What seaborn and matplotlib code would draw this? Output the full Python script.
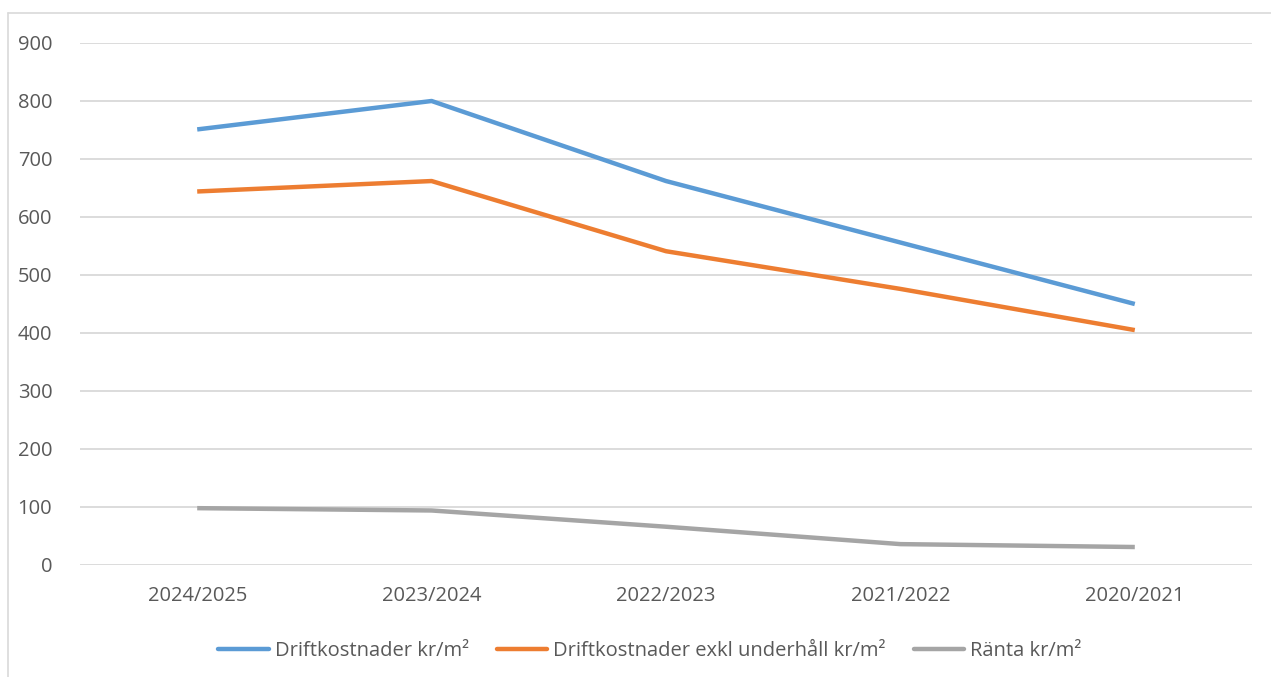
import matplotlib
matplotlib.use("Agg")
import matplotlib.pyplot as plt
import seaborn as sns
import pandas as pd
from matplotlib.lines import Line2D

categories = ["2024/2025", "2023/2024", "2022/2023", "2021/2022", "2020/2021"]
drift = [751, 800, 662, 556, 450]
drift_exkl = [644, 662, 541, 476, 405]
ranta = [98, 94, 66, 36, 31]
series_names = ["Driftkostnader kr/m²", "Driftkostnader exkl underhåll kr/m²", "Ränta kr/m²"]
colors = ["#5B9BD5", "#ED7D31", "#A5A5A5"]
yticks = [0, 100, 200, 300, 400, 500, 600, 700, 800, 900]

rows = []
for name, vals in zip(series_names, [drift, drift_exkl, ranta]):
    for i, (c, v) in enumerate(zip(categories, vals)):
        rows.append({"pos": i, "cat": c, "value": v, "series": name})
df = pd.DataFrame(rows)

sns.set_theme(style="white")
plt.rcParams["font.family"] = ["Open Sans", "DejaVu Sans"]

fig = plt.figure(figsize=(12.71, 6.77), dpi=100)
ax = fig.add_axes([80 / 1271, 1 - 565 / 677, (1252 - 80) / 1271, (565 - 43) / 677])

sns.lineplot(data=df, x="pos", y="value", hue="series", palette=colors,
             hue_order=series_names, linewidth=3.2, ax=ax, legend=False,
             solid_capstyle="butt")

ax.set_xlim(-0.5, 4.5)
ax.set_ylim(0, 900)
ax.set_yticks(yticks)
ax.set_yticklabels([str(t) for t in yticks])
ax.set_xticks(range(len(categories)))
ax.set_xticklabels(categories)
ax.yaxis.grid(True, color="#D9D9D9", linewidth=1.3)
ax.xaxis.grid(False)
ax.set_axisbelow(True)
for s in ax.spines.values():
    s.set_visible(False)
ax.tick_params(axis="both", length=0, labelsize=14.5, labelcolor="#595959")
ax.tick_params(axis="y", pad=20)
ax.tick_params(axis="x", pad=15)
ax.set_xlabel("")
ax.set_ylabel("")

handles = [Line2D([0], [0], color=c, linewidth=3.2) for c in colors]
fig.legend(handles, series_names, loc="center", bbox_to_anchor=(650 / 1271, 1 - 651 / 677),
           ncol=3, frameon=False, fontsize=14.5, labelcolor="#595959",
           handlelength=2.5, handletextpad=0.3, columnspacing=1.4)

# outer chart border (top and left visible)
fig.add_artist(Line2D([8 / 1271, 1.0], [1 - 13 / 677, 1 - 13 / 677], color="#D9D9D9", linewidth=1.2))
fig.add_artist(Line2D([8 / 1271, 8 / 1271], [1 - 13 / 677, 0.0], color="#D9D9D9", linewidth=1.2))

fig.savefig("out.png", dpi=100, facecolor="white")
